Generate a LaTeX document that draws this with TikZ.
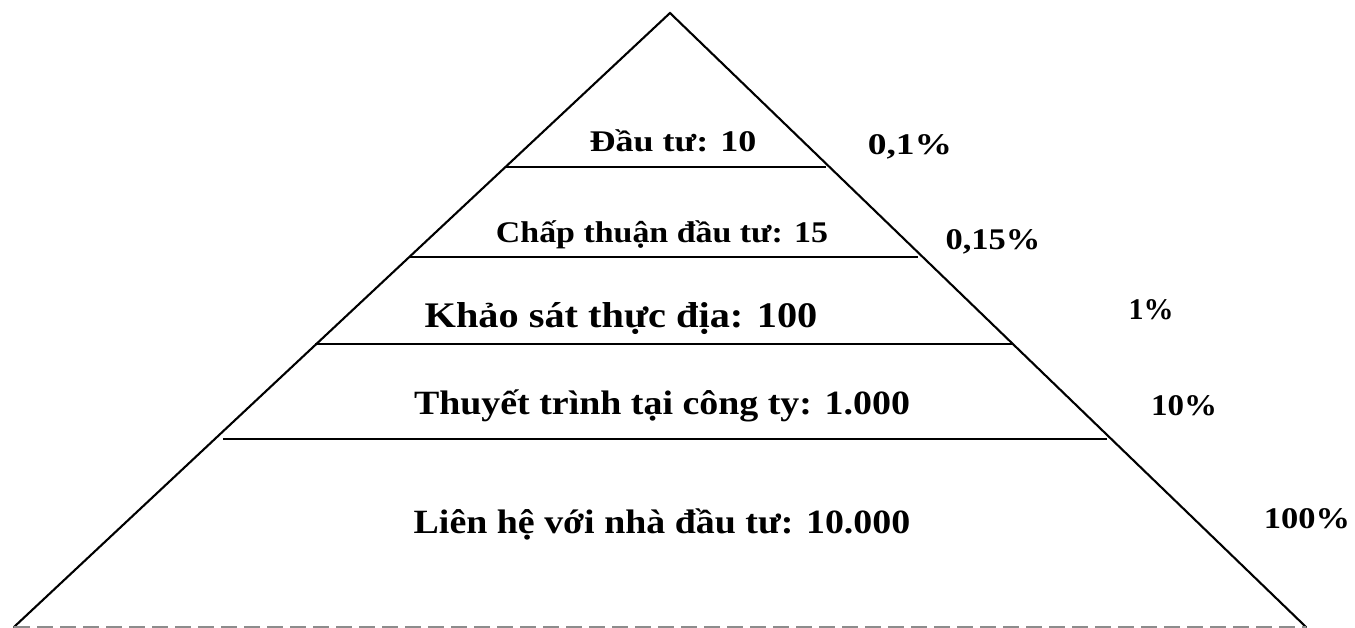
\documentclass[tikz,border=0pt]{standalone}
\usepackage{graphicx}
\usepackage{fontspec}
\setmainfont{Liberation Serif}
% bold text widened horizontally
\newcommand{\wide}[2]{\scalebox{#1}[1]{#2}}
\begin{document}
\begin{tikzpicture}[x=1pt,y=-1pt,
  edge/.style={line width=2.1pt,black,line cap=round},
  tier/.style={line width=2.1pt,black},
  floorline/.style={line width=1.6pt,black!45,dash pattern=on 16pt off 7pt},
  label/.style={anchor=base,inner sep=0pt},
  big/.style={label,font=\fontsize{34}{38}\selectfont\bfseries},
  mid/.style={label,font=\fontsize{30}{34}\selectfont\bfseries},
  pct/.style={label,font=\fontsize{30}{34}\selectfont\bfseries}]
  \useasboundingbox (0,0) rectangle (1355,628);
  % corners of the pyramid
  \coordinate (apex) at (670,13);
  \coordinate (bl) at (14,627);
  \coordinate (br) at (1306,627);
  % sides and base
  \draw[edge] (bl) -- (apex) -- (br);
  \draw[floorline] (bl) -- (br);
  % tier separators
  \coordinate (t1l) at (505,167); \coordinate (t1r) at (826,167);
  \coordinate (t2l) at (410,257); \coordinate (t2r) at (918,257);
  \coordinate (t3l) at (315,344); \coordinate (t3r) at (1013,344);
  \coordinate (t4l) at (223,439); \coordinate (t4r) at (1107,439);
  \draw[tier] (t1l) -- (t1r);
  \draw[tier] (t2l) -- (t2r);
  \draw[tier] (t3l) -- (t3r);
  \draw[tier] (t4l) -- (t4r);
  % tier labels
  \node[mid] (l1) at (673,152) {\wide{1.2}{Đầu tư: 10}};
  \node[mid] (l2) at (662,243) {\wide{1.13}{Chấp thuận đầu tư: 15}};
  \node[big,font=\fontsize{36}{40}\selectfont\bfseries] (l3) at (621,327) {\wide{1.12}{Khảo sát thực địa: 100}};
  \node[big] (l4) at (662,414) {\wide{1.115}{Thuyết trình tại công ty: 1.000}};
  \node[big] (l5) at (662,533) {\wide{1.115}{Liên hệ với nhà đầu tư: 10.000}};
  % conversion rates
  \node[pct] (p1) at (910,155) {\wide{1.25}{0,1\%}};
  \node[pct] (p2) at (993,250) {\wide{1.15}{0,15\%}};
  \node[pct] (p3) at (1151,320) {\wide{1.0}{1\%}};
  \node[pct] (p4) at (1184,415) {\wide{1.1}{10\%}};
  \node[pct] (p5) at (1307,528) {\wide{1.15}{100\%}};
\end{tikzpicture}
\end{document}
